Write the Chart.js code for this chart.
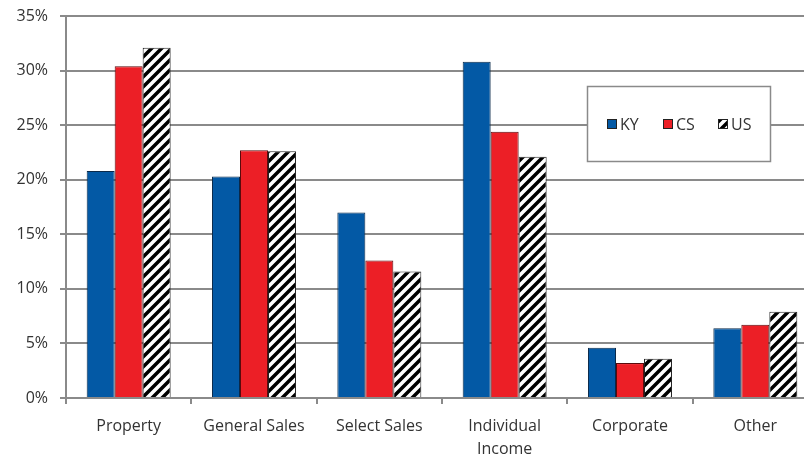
<!DOCTYPE html>
<html>
<head>
<meta charset="utf-8">
<script src="https://cdn.jsdelivr.net/npm/chart.js@4.4.0/dist/chart.umd.min.js"></script>
<style>
  html, body { margin: 0; padding: 0; background: #fff; overflow: hidden; }
  .wrap { position: relative; width: 818px; height: 458px; }
</style>
</head>
<body>
<div class="wrap"><canvas id="chart"></canvas></div>
<script>
const categories = ['Property', 'General Sales', 'Select Sales', ['Individual', 'Income'], 'Corporate', 'Other'];
const kyValues = [20.8, 20.3, 17.0, 30.8, 4.6, 6.4];
const csValues = [30.4, 22.7, 12.6, 24.4, 3.2, 6.7];
const usValues = [32.1, 22.6, 11.6, 22.1, 3.6, 7.9];
const yTicks = [0, 5, 10, 15, 20, 25, 30, 35];

// black and white diagonal stripes for the US series
function makeHatch() {
    const s = 10;
    const c = document.createElement('canvas');
    c.width = s; c.height = s;
    const g = c.getContext('2d');
    g.fillStyle = '#fff';
    g.fillRect(0, 0, s, s);
    g.strokeStyle = '#000';
    g.lineWidth = 3.5;
    g.beginPath();
    for (let k = -1; k <= 1; k++) {
        g.moveTo(k * s - 2, s + 2);
        g.lineTo(k * s + s + 2, -2);
    }
    g.stroke();
    return g.createPattern(c, 'repeat');
}

const ctx = document.getElementById('chart').getContext('2d');
const hatch = makeHatch();

const legendBox = {
    id: 'legendBox',
    afterDraw(chart) {
        const c = chart.ctx;
        c.save();
        c.fillStyle = '#fff';
        c.fillRect(587, 86, 183, 75);
        c.strokeStyle = '#8a8a8a';
        c.lineWidth = 1.5;
        c.strokeRect(587.5, 86.5, 183, 75);
        c.font = '16px "Open Sans"';
        c.textBaseline = 'middle';
        const xs = [607, 663, 718];
        chart.data.datasets.forEach((ds, i) => {
            c.fillStyle = ds.backgroundColor;
            c.fillRect(xs[i], 119, 10, 10);
            c.strokeStyle = '#222';
            c.lineWidth = 1;
            c.strokeRect(xs[i] + 0.5, 119.5, 9, 9);
            c.fillStyle = '#333';
            c.fillText(ds.label, xs[i] + 13, 125);
        });
        c.restore();
    }
};

const config = {
    type: 'bar',
    data: {
        labels: categories,
        datasets: [
            { label: 'KY', data: kyValues, backgroundColor: '#0359a5', borderColor: '#0b2a4a', borderWidth: 1 },
            { label: 'CS', data: csValues, backgroundColor: '#ec1f26', borderColor: '#5a0a0c', borderWidth: 1 },
            { label: 'US', data: usValues, backgroundColor: hatch, borderColor: '#222', borderWidth: 1 }
        ]
    },
    options: {
        responsive: true,
        maintainAspectRatio: false,
        animation: false,
        layout: { padding: { top: 16, right: 0, left: 0, bottom: 0 } },
        datasets: { bar: { categoryPercentage: 0.67, barPercentage: 1 } },
        plugins: {
            legend: { display: false },
            tooltip: { enabled: false }
        },
        scales: {
            x: {
                grid: { display: true, drawOnChartArea: false, offset: true, color: '#8a8a8a', lineWidth: 2, tickLength: 6 },
                border: { color: '#8a8a8a', width: 2 },
                ticks: { color: '#333', font: { family: 'Open Sans', size: 16, lineHeight: 1.45 }, maxRotation: 0, autoSkip: false, padding: 11 },
                afterFit(axis) { axis.height = 60; axis.paddingLeft = 0; axis.paddingRight = 0; }
            },
            y: {
                min: 0,
                max: 35,
                afterBuildTicks(axis) { axis.ticks = yTicks.map(v => ({ value: v })); },
                grid: { color: '#8a8a8a', lineWidth: 2, tickLength: 6 },
                border: { color: '#8a8a8a', width: 2 },
                ticks: { color: '#333', font: { family: 'Open Sans', size: 16 }, padding: 12, callback: v => v + '%' },
                afterFit(axis) { axis.width = 66; axis.paddingTop = 0; axis.paddingBottom = 0; }
            }
        }
    },
    plugins: [legendBox]
};

const chart = new Chart(ctx, config);
</script>
</body>
</html>
